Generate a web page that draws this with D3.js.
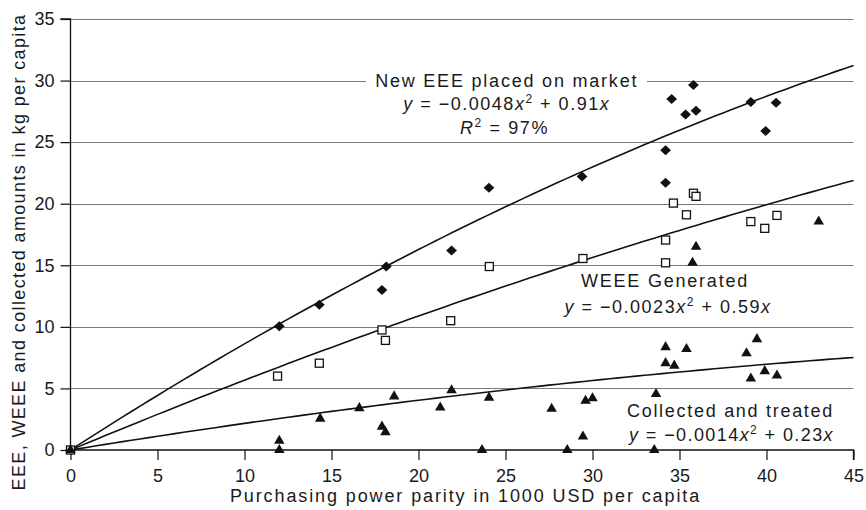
<!DOCTYPE html>
<html>
<head>
<meta charset="utf-8">
<script src="https://cdn.jsdelivr.net/npm/d3@7"></script>
<style>
  html, body { margin: 0; padding: 0; background: #fff; }
  svg { display: block; }
  text { font-family: "Liberation Sans", Arial, sans-serif; fill: #1a1a1a; }
</style>
</head>
<body>
<svg id="chart" width="866" height="510"></svg>
<script>
// ---------- DATA ----------
const eeeX = [0, 12.0, 14.3, 17.9, 18.15, 21.9, 24.05, 29.4, 34.55, 35.8, 35.35, 35.95, 39.1, 40.55, 39.95, 34.2, 34.2];
const eeeY = [0, 10.05, 11.8, 13.0, 14.9, 16.2, 21.3, 22.2, 28.5, 29.65, 27.25, 27.55, 28.25, 28.2, 25.9, 24.35, 21.7];

const weeeX = [0, 11.9, 14.3, 17.9, 18.1, 21.85, 24.07, 29.45, 34.65, 35.8, 35.95, 35.4, 34.2, 34.2, 39.1, 39.9, 40.6];
const weeeY = [0, 6.0, 7.05, 9.75, 8.9, 10.5, 14.9, 15.55, 20.05, 20.85, 20.6, 19.1, 17.05, 15.2, 18.55, 18.0, 19.05];

const colX = [0, 12.0, 12.0, 14.35, 16.6, 17.9, 18.1, 18.6, 21.25, 21.9, 24.05, 23.65, 27.65, 28.55, 29.45, 29.6, 30.0,
              33.65, 33.55, 34.2, 34.2, 34.7, 35.4, 35.75, 35.95, 38.85, 39.45, 39.1, 39.9, 40.6, 43.0];
const colY = [0, 0.75, 0, 2.55, 3.4, 1.9, 1.45, 4.35, 3.45, 4.85, 4.25, 0, 3.35, 0, 1.1, 4.0, 4.2,
              4.55, 0, 8.35, 7.05, 6.85, 8.2, 15.2, 16.5, 7.85, 9.0, 5.8, 6.4, 6.05, 18.55];

// fitted curves y = a*x^2 + b*x
const curveNames = ["eee", "weee", "collected"];
const curveA = [-0.0048, -0.0023, -0.0014];
const curveB = [0.91, 0.59, 0.23];

const xTicks = [0, 5, 10, 15, 20, 25, 30, 35, 40, 45];
const yTicks = [0, 5, 10, 15, 20, 25, 30, 35];

const xTitle = "Purchasing power parity in 1000 USD per capita";
const yTitle = "EEE, WEEE and collected amounts in kg per capita";

// ---------- LAYOUT ----------
const svg = d3.select("#chart");
const x = d3.scaleLinear().domain([0, 45]).range([70.5, 853.5]);
const y = d3.scaleLinear().domain([0, 35]).range([450, 19]);

const FONT = 18;

// gridlines
svg.append("g")
  .selectAll("line")
  .data(yTicks.filter(d => d > 0))
  .join("line")
  .attr("x1", x(0)).attr("x2", x(45))
  .attr("y1", d => Math.round(y(d)) + 0.5).attr("y2", d => Math.round(y(d)) + 0.5)
  .attr("stroke", "#7a7a7a").attr("stroke-width", 1.1);

// axes
const yAxis = svg.append("g")
  .attr("transform", `translate(${x(0)},0)`)
  .call(d3.axisLeft(y).tickValues(yTicks).tickSize(10).tickPadding(6).tickFormat(d3.format("d")));
const xAxis = svg.append("g")
  .attr("transform", `translate(0,${y(0)})`)
  .call(d3.axisBottom(x).tickValues(xTicks).tickSize(10).tickPadding(9).tickFormat(d3.format("d")));

[yAxis, xAxis].forEach(g => {
  g.select(".domain").attr("stroke", "#111").attr("stroke-width", 1.3);
  g.selectAll(".tick line").attr("stroke", "#111").attr("stroke-width", 1.2);
  g.selectAll(".tick text").attr("font-size", FONT).attr("fill", "#1a1a1a")
    .attr("font-family", "Liberation Sans, Arial, sans-serif");
});
yAxis.select(".domain").attr("d", `M-10,${y(35)}H0V${y(0)}`);
xAxis.select(".domain").attr("d", `M${x(0)},0H${x(45)}V10`);

// helper to fit a text element to a target width via letter-spacing
function fit(t, target) {
  const node = t.node();
  const natural = node.getComputedTextLength();
  const n = node.textContent.length;
  const ls = (target - natural) / n;
  t.attr("letter-spacing", ls.toFixed(2));
  return t;
}

// axis titles
fit(svg.append("text")
  .attr("x", 465.5).attr("y", 502)
  .attr("text-anchor", "middle").attr("font-size", FONT)
  .text(xTitle), 471);

fit(svg.append("text")
  .attr("transform", "translate(25,252) rotate(-90)")
  .attr("text-anchor", "middle").attr("font-size", FONT)
  .text(yTitle), 477);

// annotation helper: equation text with italic vars and superscripts
function equation(cx, by, parts, target) {
  const t = svg.append("text").attr("x", cx).attr("y", by)
    .attr("text-anchor", "middle").attr("font-size", FONT);
  parts.forEach(p => {
    const s = t.append("tspan").text(p.t);
    if (p.i) s.attr("font-style", "italic");
    if (p.sup) s.attr("font-size", 12).attr("dy", -7);
    if (p.after) s.attr("dy", 7);
  });
  fit(t, target);
  return t;
}

// white background behind the first EEE label (masks gridline)
svg.append("rect").attr("x", 366).attr("y", 70).attr("width", 281).attr("height", 22).attr("fill", "#fff");

fit(svg.append("text").attr("x", 506.7).attr("y", 87).attr("text-anchor", "middle").attr("font-size", FONT)
  .text("New EEE placed on market"), 263);
equation(506.7, 110, [
  {t: "y", i: true}, {t: " = −0.0048"}, {t: "x", i: true}, {t: "2", sup: true},
  {t: " + 0.91", after: true}, {t: "x", i: true}], 207);
equation(504.5, 134, [
  {t: "R", i: true}, {t: "2", sup: true}, {t: " = 97%", after: true}], 89);

fit(svg.append("text").attr("x", 665).attr("y", 287).attr("text-anchor", "middle").attr("font-size", FONT)
  .text("WEEE Generated"), 168);
equation(668, 313, [
  {t: "y", i: true}, {t: " = −0.0023"}, {t: "x", i: true}, {t: "2", sup: true},
  {t: " + 0.59", after: true}, {t: "x", i: true}], 207);

fit(svg.append("text").attr("x", 730.5).attr("y", 417).attr("text-anchor", "middle").attr("font-size", FONT)
  .text("Collected and treated"), 207);
equation(731.5, 441, [
  {t: "y", i: true}, {t: " = −0.0014"}, {t: "x", i: true}, {t: "2", sup: true},
  {t: " + 0.23", after: true}, {t: "x", i: true}], 205);

// fitted curves
const xs = d3.range(0, 45.01, 0.5);
const line = d3.line().x(d => x(d[0])).y(d => y(d[1]));
curveNames.forEach((name, i) => {
  svg.append("path")
    .datum(xs.map(v => [v, curveA[i] * v * v + curveB[i] * v]))
    .attr("d", line)
    .attr("fill", "none").attr("stroke", "#111").attr("stroke-width", 1.6);
});

// markers
const diamondType = {
  draw(ctx, size) {
    const r = Math.sqrt(size / 2);
    ctx.moveTo(0, -r);
    ctx.lineTo(r * 1.08, 0);
    ctx.lineTo(0, r);
    ctx.lineTo(-r * 1.08, 0);
    ctx.closePath();
  }
};
const diamond = d3.symbol().type(diamondType).size(50);
svg.append("g").selectAll("path")
  .data(eeeX.map((v, i) => [v, eeeY[i]]))
  .join("path")
  .attr("transform", d => `translate(${x(d[0])},${y(d[1])})`)
  .attr("d", diamond).attr("fill", "#111");

svg.append("g").selectAll("rect")
  .data(weeeX.map((v, i) => [v, weeeY[i]]))
  .join("rect")
  .attr("x", d => x(d[0]) - 4).attr("y", d => y(d[1]) - 4)
  .attr("width", 8).attr("height", 8)
  .attr("fill", "#fff").attr("stroke", "#111").attr("stroke-width", 1.3);

const tri = d3.symbol().type(d3.symbolTriangle).size(48);
svg.append("g").selectAll("path")
  .data(colX.map((v, i) => [v, colY[i]]))
  .join("path")
  .attr("transform", d => `translate(${x(d[0])},${y(d[1])})`)
  .attr("d", tri).attr("fill", "#111");
</script>
</body>
</html>
